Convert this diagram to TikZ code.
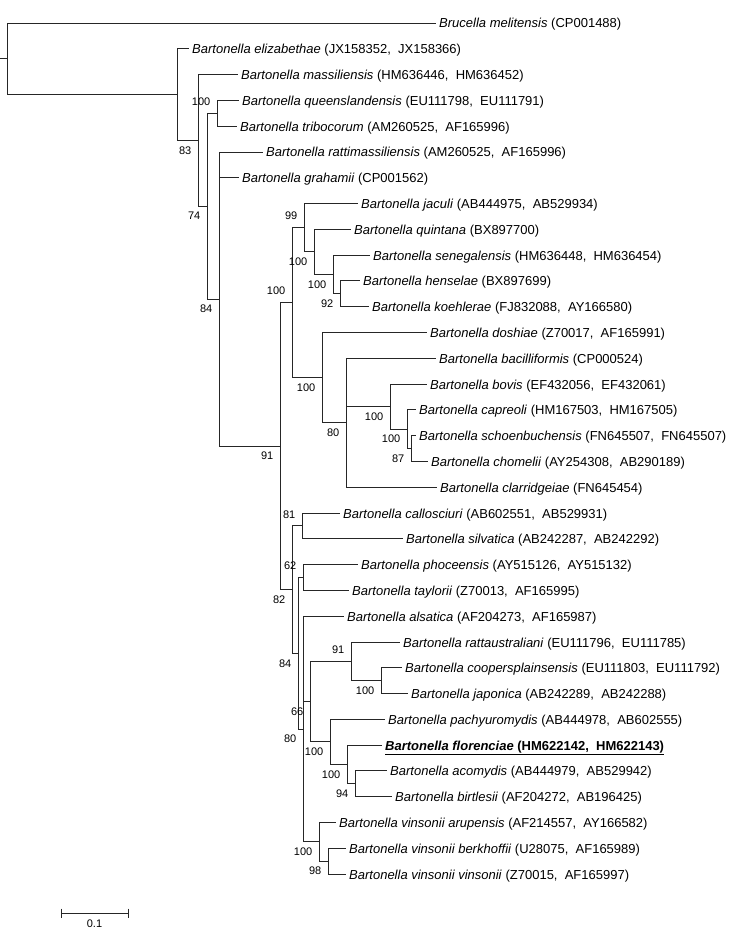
\documentclass[tikz,border=0pt]{standalone}
\usepackage{fontspec}
\setmainfont{Liberation Sans}
\usepackage{tikz}

\begin{document}
\begin{tikzpicture}[
  x=1pt, y=-1pt,
  branch/.style={line width=0.9pt, draw=black!85},
  taxon/.style={anchor=west, inner xsep=3pt, inner ysep=0pt,
                text height=10pt, text depth=0pt,
                font=\fontsize{13}{15}\selectfont},
  bsb/.style={anchor=east, xshift=-6.5pt, yshift=-10pt, inner sep=0pt,
              font=\fontsize{11}{13}\selectfont},
  bsa/.style={anchor=east, xshift=-6.5pt, yshift=11.5pt, inner sep=0pt,
              font=\fontsize{11}{13}\selectfont},
]
  \useasboundingbox (0,0) rectangle (750,936);

  \coordinate (stub) at (0,58.8);
  \coordinate (root) at (7,58.8);
  \coordinate (nBart) at (177,94.6);
  \coordinate (nA)  at (198,140.4);
  \coordinate (nB)  at (207,206.2);
  \coordinate (nC)  at (217,113.3);
  \coordinate (nD)  at (219,299.05);
  \coordinate (nE)  at (280,446.1);
  \coordinate (nF)  at (292,302.65);
  \coordinate (nH)  at (304,227.7);
  \coordinate (nJ)  at (314,251.9);
  \coordinate (nK)  at (333,274.45);
  \coordinate (nL)  at (340,293.8);
  \coordinate (nI)  at (322,377.6);
  \coordinate (nM)  at (346,422.75);
  \coordinate (nN)  at (390,406.65);
  \coordinate (nO)  at (407,429.2);
  \coordinate (nP)  at (411,448.5);
  \coordinate (nG)  at (292,589.6);
  \coordinate (nQ)  at (302,525.9);
  \coordinate (nR)  at (298,653.25);
  \coordinate (nS)  at (303,577.5);
  \coordinate (nT)  at (303,729);
  \coordinate (nU)  at (310,701.6);
  \coordinate (nW)  at (351,661.3);
  \coordinate (nZ)  at (381,680.65);
  \coordinate (nX)  at (330,741.9);
  \coordinate (nY)  at (347,764.45);
  \coordinate (nAA) at (355,783.8);
  \coordinate (nV)  at (319,841.85);
  \coordinate (nAB) at (328,861.2);

  \node[taxon] (bme) at (436,23)    {\textit{Brucella melitensis} (CP001488)};
  \node[taxon] (eli) at (189,48.8)  {\textit{Bartonella elizabethae} (JX158352,\ \ JX158366)};
  \node[taxon] (mas) at (238,74.6)  {\textit{Bartonella massiliensis} (HM636446,\ \ HM636452)};
  \node[taxon] (que) at (239,100.4) {\textit{Bartonella queenslandensis} (EU111798,\ \ EU111791)};
  \node[taxon] (tri) at (237,126.2) {\textit{Bartonella tribocorum} (AM260525,\ \ AF165996)};
  \node[taxon] (rat) at (263,152)   {\textit{Bartonella rattimassiliensis} (AM260525,\ \ AF165996)};
  \node[taxon] (gra) at (239,177.7) {\textit{Bartonella grahamii} (CP001562)};
  \node[taxon] (jac) at (358,203.5) {\textit{Bartonella jaculi} (AB444975,\ \ AB529934)};
  \node[taxon] (qui) at (351,229.3) {\textit{Bartonella quintana} (BX897700)};
  \node[taxon] (sen) at (370,255.1) {\textit{Bartonella senegalensis} (HM636448,\ \ HM636454)};
  \node[taxon] (hen) at (360,280.9) {\textit{Bartonella henselae} (BX897699)};
  \node[taxon] (koe) at (369,306.7) {\textit{Bartonella koehlerae} (FJ832088,\ \ AY166580)};
  \node[taxon] (dos) at (427,332.5) {\textit{Bartonella doshiae} (Z70017,\ \ AF165991)};
  \node[taxon] (bac) at (436,358.3) {\textit{Bartonella bacilliformis} (CP000524)};
  \node[taxon] (bov) at (427,384.1) {\textit{Bartonella bovis} (EF432056,\ \ EF432061)};
  \node[taxon] (cap) at (416,409.9) {\textit{Bartonella capreoli} (HM167503,\ \ HM167505)};
  \node[taxon] (sch) at (416,435.6) {\textit{Bartonella schoenbuchensis} (FN645507,\ \ FN645507)};
  \node[taxon] (cho) at (428,461.4) {\textit{Bartonella chomelii} (AY254308,\ \ AB290189)};
  \node[taxon] (cla) at (437,487.2) {\textit{Bartonella clarridgeiae} (FN645454)};
  \node[taxon] (cal) at (340,513)   {\textit{Bartonella callosciuri} (AB602551,\ \ AB529931)};
  \node[taxon] (sil) at (403,538.8) {\textit{Bartonella silvatica} (AB242287,\ \ AB242292)};
  \node[taxon] (pho) at (358,564.6) {\textit{Bartonella phoceensis} (AY515126,\ \ AY515132)};
  \node[taxon] (tay) at (349,590.4) {\textit{Bartonella taylorii} (Z70013,\ \ AF165995)};
  \node[taxon] (als) at (344,616.2) {\textit{Bartonella alsatica} (AF204273,\ \ AF165987)};
  \node[taxon] (rau) at (400,642)   {\textit{Bartonella rattaustraliani} (EU111796,\ \ EU111785)};
  \node[taxon] (coo) at (402,667.8) {\textit{Bartonella coopersplainsensis} (EU111803,\ \ EU111792)};
  \node[taxon] (jap) at (408,693.5) {\textit{Bartonella japonica} (AB242289,\ \ AB242288)};
  \node[taxon] (pac) at (385,719.3) {\textit{Bartonella pachyuromydis} (AB444978,\ \ AB602555)};
  \node[taxon] (flo) at (382,745.1) {\underline{\textbf{\textit{Bartonella florenciae} (HM622142,\ \ HM622143)}}};
  \node[taxon] (aco) at (387,770.9) {\textit{Bartonella acomydis} (AB444979,\ \ AB529942)};
  \node[taxon] (bir) at (392,796.7) {\textit{Bartonella birtlesii} (AF204272,\ \ AB196425)};
  \node[taxon] (aru) at (336,822.5) {\textit{Bartonella vinsonii arupensis} (AF214557,\ \ AY166582)};
  \node[taxon] (ber) at (346,848.3) {\textit{Bartonella vinsonii berkhoffii} (U28075,\ \ AF165989)};
  \node[taxon] (vin) at (346,874.1) {\textit{Bartonella vinsonii vinsonii} (Z70015,\ \ AF165997)};

  \draw[branch] (stub) -- (root);
  \foreach \p/\c in {root/nBart, nBart/nA, nA/nB, nB/nC, nB/nD, nD/nE,
                     nE/nF, nE/nG, nF/nH, nF/nI, nH/nJ, nJ/nK, nK/nL,
                     nI/nM, nM/nN, nN/nO, nO/nP, nG/nQ, nG/nR, nR/nS,
                     nR/nT, nT/nU, nT/nV, nU/nW, nU/nX, nW/nZ, nX/nY,
                     nY/nAA, nV/nAB} {
    \draw[branch] (\p) |- (\c);
  }
  \foreach \p/\c in {root/bme, nBart/eli, nA/mas, nC/que, nC/tri, nD/rat,
                     nD/gra, nH/jac, nJ/qui, nK/sen, nL/hen, nL/koe,
                     nI/dos, nM/bac, nN/bov, nO/cap, nP/sch, nP/cho,
                     nM/cla, nQ/cal, nQ/sil, nS/pho, nS/tay, nT/als,
                     nW/rau, nZ/coo, nZ/jap, nX/pac, nY/flo, nAA/aco,
                     nAA/bir, nV/aru, nAB/ber, nAB/vin} {
    \draw[branch] (\p) |- (\c.west);
  }

  \node[bsb] (bA)  at (nA)  {83};
  \node[bsb] (bB)  at (nB)  {74};
  \node[bsa] (bC)  at (nC)  {100};
  \node[bsb] (bD)  at (nD)  {84};
  \node[bsb] (bE)  at (nE)  {91};
  \node[bsa] (bF)  at (nF)  {100};
  \node[bsa] (bH)  at (nH)  {99};
  \node[bsb] (bJ)  at (nJ)  {100};
  \node[bsb] (bK)  at (nK)  {100};
  \node[bsb] (bL)  at (nL)  {92};
  \node[bsb] (bI)  at (nI)  {100};
  \node[bsb] (bM)  at (nM)  {80};
  \node[bsb] (bN)  at (nN)  {100};
  \node[bsb] (bO)  at (nO)  {100};
  \node[bsb] (bP)  at (nP)  {87};
  \node[bsb] (bG)  at (nG)  {82};
  \node[bsa] (bQ)  at (nQ)  {81};
  \node[bsb] (bR)  at (nR)  {84};
  \node[bsa] (bS)  at (nS)  {62};
  \node[bsb] (bT)  at (nT)  {80};
  \node[bsb] (bU)  at (nU)  {66};
  \node[bsa] (bW)  at (nW)  {91};
  \node[bsb] (bZ)  at (nZ)  {100};
  \node[bsb] (bX)  at (nX)  {100};
  \node[bsb] (bY)  at (nY)  {100};
  \node[bsb] (bAA) at (nAA) {94};
  \node[bsb] (bV)  at (nV)  {100};
  \node[bsb] (bAB) at (nAB) {98};

  \coordinate (sbl) at (61,913);
  \coordinate (sbr) at (128,913);
  \draw[branch] (sbl) -- (sbr);
  \draw[branch] ([yshift=4.5pt]sbl) -- ([yshift=-4.5pt]sbl);
  \draw[branch] ([yshift=4.5pt]sbr) -- ([yshift=-4.5pt]sbr);
  \node[font=\fontsize{11}{13}\selectfont] (sbt) at (94.5,924) {0.1};
\end{tikzpicture}
\end{document}
